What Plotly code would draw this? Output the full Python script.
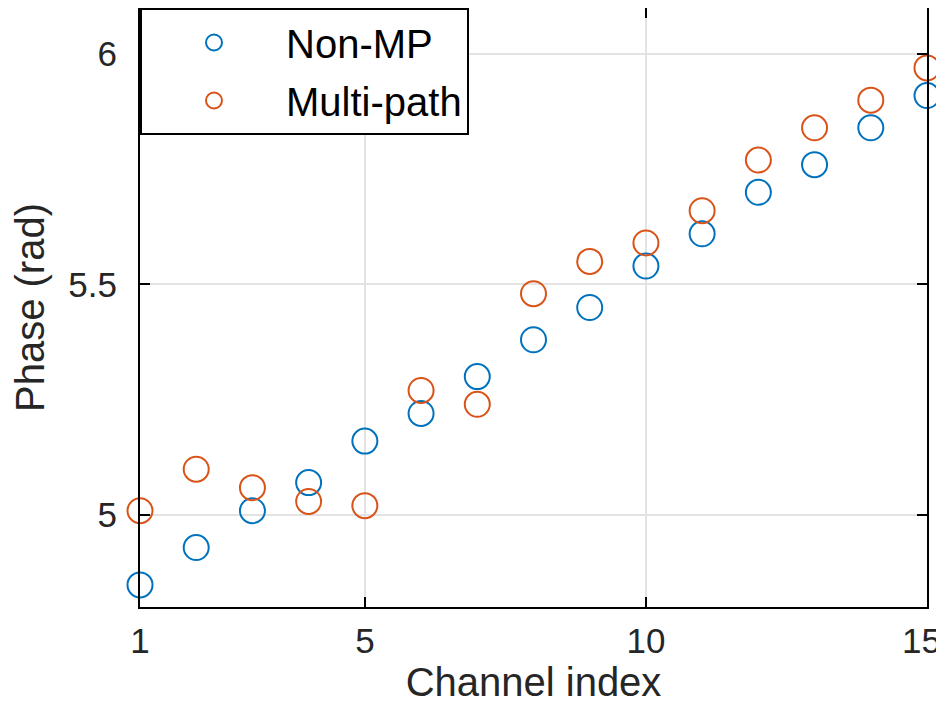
import plotly.graph_objects as go

channel = list(range(1, 16))
non_mp = [4.848, 4.929, 5.009, 5.07, 5.16, 5.22, 5.30, 5.38, 5.45, 5.54,
          5.61, 5.70, 5.76, 5.84, 5.91]
multi_path = [5.009, 5.099, 5.059, 5.029, 5.02, 5.27, 5.24, 5.48, 5.55, 5.59,
              5.66, 5.77, 5.84, 5.90, 5.97]

x_ticks = [1, 5, 10, 15]
x_labels = ["1", "5", "10", "15"]
y_ticks = [5, 5.5, 6]
y_labels = ["5", "5.5", "6"]

FONT = "Liberation Sans, Arial, Helvetica, sans-serif"
TICK_FONT = dict(size=35, color="#262626", family=FONT)

fig = go.Figure()
fig.add_trace(go.Scatter(
    x=channel, y=non_mp, mode="markers", name="Non-MP", legendgroup="a",
    marker=dict(symbol="circle-open", size=25, color="#0072BD",
                line=dict(width=2, color="#0072BD")),
    cliponaxis=False))
fig.add_trace(go.Scatter(
    x=channel, y=multi_path, mode="markers", name="Multi-path", legendgroup="b",
    marker=dict(symbol="circle-open", size=25, color="#D95319",
                line=dict(width=2, color="#D95319")),
    cliponaxis=False))

axis_common = dict(
    showline=True, linecolor="black", linewidth=2, mirror="ticks",
    ticks="inside", ticklen=10, tickwidth=2, tickcolor="black",
    showgrid=True, gridcolor="#e3e3e3", gridwidth=1.5,
    zeroline=False, tickfont=TICK_FONT,
)

# last x label sits on the page edge; draw it as an annotation nudged inwards
fig.update_xaxes(range=[1, 15], tickvals=x_ticks, ticktext=x_labels[:-1] + [""],
                 ticklabelstandoff=2,
                 title=dict(text="Channel index", font=dict(size=40, color="#262626"), standoff=8),
                 automargin=False, **axis_common)
fig.update_yaxes(range=[4.8, 6.1], tickvals=y_ticks, ticktext=y_labels,
                 ticklabelstandoff=14,
                 title=dict(text="Phase (rad)", font=dict(size=40, color="#262626"), standoff=24),
                 automargin=False, **axis_common)

fig.add_annotation(x=x_ticks[-1], y=0, xref="x", yref="paper", text=x_labels[-1],
                   showarrow=False, xanchor="center", yanchor="middle",
                   xshift=-6, yshift=-33, font=TICK_FONT)

# page body has an 8px margin, so the figure is shrunk by 8px and margins shifted
fig.update_layout(
    width=936, height=697,
    margin=dict(l=132, r=17, t=0, b=98),
    plot_bgcolor="white", paper_bgcolor="white",
    font=dict(family=FONT, color="#262626"),
    legend=dict(x=0, y=1, xanchor="left", yanchor="top",
                bgcolor="white", bordercolor="black", borderwidth=2,
                font=dict(size=40, color="black"),
                itemwidth=134, itemsizing="trace",
                tracegroupgap=3),
)

fig.write_html("out.html")
